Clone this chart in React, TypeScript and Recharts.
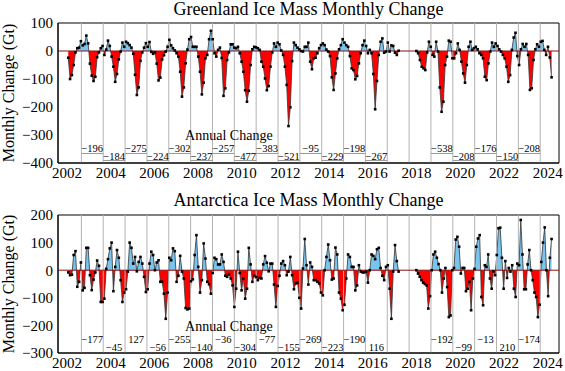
import React from "react";
import {
  Area,
  ComposedChart,
  ReferenceArea,
  ReferenceDot,
  ReferenceLine,
  XAxis,
  YAxis,
} from "recharts";

// Monthly mass change (Gt).
// GRACE period first, then GRACE-FO after the gap.
const GRACE_START = 2002.06;
const GRACE_END = 2017.18;
const FO_START = 2017.99;
const FO_END = 2024.18;

const greenlandGrace = [
  -24, -100, -86, -50, -5, 10, 12, 35, 20, 25, 55, 27,
  -45, -88, -107, -92, -22, -5, 10, 18, -14, 5, 37, 18,
  -20, -56, -110, -82, -30, -2, 30, 15, 33, 28, 21, 12,
  -10, -85, -157, -130, -35, -5, 12, 28, 15, 32, -3, -10,
  -5, -45, -105, -95, -30, -15, -2, 15, 40, 20, 10, 2,
  -8, -20, -74, -163, -130, -44, 5, 42, 50, 15, 15, 15,
  -20, -74, -155, -113, -26, -14, 42, 72, 42, -8, -20, 4,
  12, -25, -160, -133, -32, -5, 24, 24, 12, 10, 15, -8,
  -38, -74, -140, -181, -142, -50, 6, 15, 13, 10, 4, -38,
  -56, -98, -140, -125, -56, -5, 27, 15, 30, 24, 2, -14,
  -56, -121, -268, -201, -36, 30, 21, 12, 6, 0, -2, 15,
  15, 30, -38, -65, -26, -24, -8, 10, 21, 27, 21, 5,
  -2, -18, -94, -139, -80, -26, 6, 21, 42, 30, 21, 15,
  -18, -62, -68, -101, -89, -44, -8, 21, 37, 18, -8, 4,
  -8, -82, -208, -107, -14, 33, 45, -6, -2, 30, -2, 20,
  18, -6, -14, 1,
];

const greenlandFO = [
  0, -8, -32, -56, -62, -68, -5, 33, 15, -14, -20, 33,
  -2, -130, -217, -181, -50, -20, 37, 33, -26, -26, -8, 27,
  4, -38, -80, -113, -50, 15, 33, 4, 10, 15, 6, -8,
  -14, -26, -92, -104, -44, -2, 30, 15, 27, 18, 6, -2,
  -14, -26, -56, -110, -86, 4, 48, 65, -18, -50, 6, 25,
  15, 25, -14, -139, -133, -32, 6, 24, 15, 33, 36, 4,
  -14, 15, -23, -94,
];

const antarcticaGrace = [
  -8, -18, -16, 55, 69, -60, -42, 28, -73, -64, 81, 81,
  -18, -72, -34, -8, 35, 16, -115, -115, -103, 5, 40, 79,
  100, -76, 12, 73, 45, -36, -115, -81, -69, -5, 100, 81,
  24, 48, -4, 30, 48, 24, -24, -79, -69, 24, 67, 55,
  0, 28, 36, -42, -42, -85, -176, -81, 45, 36, 79, 69,
  -42, -20, 52, -5, -30, -137, -142, -139, -40, -33, 55, 127,
  12, -81, -36, 97, 42, -42, -51, -85, -10, 45, 40, 21,
  21, 57, 30, -20, -24, -15, -30, -55, -133, -67, 67, -10,
  -73, -30, -103, -67, 81, 21, -42, -20, -25, -36, -28, -30,
  21, 51, 27, -4, 24, 24, -52, -133, -57, -20, 24, 33,
  18, -18, -5, 48, -18, -69, -48, -45, -100, -139, 6, 113,
  18, -52, 28, 12, -36, -36, -42, -48, -81, -91, 0, 48,
  93, 36, -34, -30, 82, 57, -81, -103, -145, -125, -30, 57,
  48, 12, 12, -73, -55, 18, -5, -8, -8, -5, -45, 0,
  57, 52, 40, 76, 81, 8, -20, -36, 12, 18, -67, -176,
  -5, 91, 33, -5,
];

const antarcticaFO = [
  0, -12, -24, -36, -45, -50, -55, -139, -94, 0, 57, 67,
  45, 22, 0, -81, -30, 8, -61, -170, -164, 0, 8, 111,
  121, 85, -12, 8, 8, -76, -67, -42, -145, -30, 5, 85,
  115, 127, -97, -127, 18, 12, 57, -30, -67, -4, -18, 55,
  152, 154, 45, -67, 33, -28, 8, -5, 18, -67, -97, 24,
  18, 182, 57, -69, -69, 21, 73, 0, -36, -81, -97, -170,
  -125, 30, 100, 155, 0, -94, 45, 113,
];

// Annual change (Gt) per mass-balance year, starting at each grey line
const greenlandAnnual = [
  -196, -184, -275, -224, -302, -237, -257, -477, -383, -521, -95, -229,
  -198, -267, null, null, -538, -208, -176, -150, -208,
];
const antarcticaAnnual = [
  -177, -45, 127, -56, -255, -140, -36, -304, -77, -155, -269, -223,
  -190, 116, null, null, -192, -99, -13, 210, -174,
];

const yearTicks = [2002, 2004, 2006, 2008, 2010, 2012, 2014, 2016, 2018, 2020, 2022, 2024];
const yearLines = [
  2002.66, 2003.66, 2004.66, 2005.66, 2006.66, 2007.66, 2008.66, 2009.66,
  2010.66, 2011.66, 2012.66, 2013.66, 2014.66, 2015.66, 2016.66, 2017.66,
  2018.66, 2019.66, 2020.66, 2021.66, 2022.66, 2023.66,
];
const greenlandTicks = [-400, -300, -200, -100, 0, 100];
const antarcticaTicks = [-300, -200, -100, 0, 100, 200];

const X_MIN = 2001.59;
const X_MAX = 2024.52;
const SERIF = "'Liberation Serif', 'DejaVu Serif', serif";
const BLUE = "#78c5f0";
const RED = "#ff0000";

type Row = { t: number; v: number | null };

function buildSeries(grace: number[], fo: number[]): Row[] {
  const rows: Row[] = [];
  grace.forEach((v, i) =>
    rows.push({ t: GRACE_START + (i * (GRACE_END - GRACE_START)) / (grace.length - 1), v })
  );
  rows.push({ t: (GRACE_END + FO_START) / 2, v: null });
  fo.forEach((v, i) =>
    rows.push({ t: FO_START + (i * (FO_END - FO_START)) / (fo.length - 1), v })
  );
  return rows;
}

const fmt = (v: number) => (v < 0 ? `\u2212${Math.abs(v)}` : `${v}`);

const squareDot = (props: any) => {
  const { cx, cy, index, payload } = props;
  if (payload?.v == null || cx == null || cy == null) return <g key={`d${index}`} />;
  return <rect key={`d${index}`} x={cx - 1.3} y={cy - 1.3} width={2.6} height={2.6} fill="#000" />;
};

type PanelProps = {
  id: string;
  data: Row[];
  annual: (number | null)[];
  yDomain: [number, number];
  yTicks: number[];
  height: number;
  top: number;
  xAxisHeight: number;
  headY: number;
  rowY: [number, number];
  underY?: [number, number];
};

function Panel(p: PanelProps) {
  const vals = p.data.map((d) => d.v).filter((v): v is number => v != null);
  const max = Math.max(...vals);
  const min = Math.min(...vals);
  const off = max / (max - min);
  const tickStyle = { fontSize: 15, fill: "#000", fontFamily: SERIF };

  return (
    <ComposedChart
      width={565}
      height={p.height}
      data={p.data}
      margin={{ top: p.top, right: 6, bottom: 0, left: 8 }}
      style={{ fontFamily: SERIF }}
    >
      <defs>
        <linearGradient id={p.id} x1="0" y1="0" x2="0" y2="1">
          <stop offset={off} stopColor={BLUE} />
          <stop offset={off} stopColor={RED} />
        </linearGradient>
      </defs>
      <XAxis
        dataKey="t"
        type="number"
        domain={[X_MIN, X_MAX]}
        ticks={yearTicks}
        allowDataOverflow
        height={p.xAxisHeight}
        tickLine={false}
        tickSize={0}
        tickMargin={4}
        axisLine={{ stroke: "#000" }}
        tick={tickStyle}
      />
      <YAxis
        type="number"
        domain={p.yDomain}
        ticks={p.yTicks}
        allowDataOverflow
        width={50}
        tickLine={false}
        tickSize={0}
        tickMargin={5}
        axisLine={{ stroke: "#000" }}
        tickFormatter={fmt}
        tick={tickStyle}
      />
      {yearLines.map((x) => (
        <ReferenceLine key={`g${x}`} x={x} stroke="#b4b4b4" strokeWidth={1} />
      ))}
      <Area
        type="linear"
        dataKey="v"
        baseValue={0}
        fill={`url(#${p.id})`}
        fillOpacity={1}
        stroke="#333"
        strokeWidth={0.8}
        dot={squareDot}
        activeDot={false}
        connectNulls={false}
        isAnimationActive={false}
      />
      <ReferenceLine y={0} stroke="#8b1010" strokeWidth={1} />
      <ReferenceDot
        x={2009.41}
        y={p.headY}
        r={0}
        stroke="none"
        label={{ value: "Annual Change", position: "center", fontSize: 14, fill: "#000", fontFamily: SERIF }}
      />
      {p.annual.map((v, k) =>
        v == null ? null : (
          <ReferenceDot
            key={`a${k}`}
            x={yearLines[k] + 0.5}
            y={p.rowY[k % 2]}
            r={0}
            stroke="none"
            label={{ value: fmt(v), position: "center", fontSize: 10.5, fill: "#000", fontFamily: SERIF }}
          />
        )
      )}
      {p.underY &&
        p.annual.map((v, k) =>
          v == null ? null : (
            <ReferenceLine
              key={`u${k}`}
              segment={[
                { x: yearLines[k], y: p.underY![k % 2] },
                { x: yearLines[k] + 1, y: p.underY![k % 2] },
              ]}
              stroke="#9a9a9a"
              strokeWidth={1}
            />
          )
        )}
      <ReferenceArea
        x1={X_MIN}
        x2={X_MAX}
        y1={p.yDomain[0]}
        y2={p.yDomain[1]}
        fill="none"
        stroke="#000"
        strokeWidth={1}
      />
    </ComposedChart>
  );
}

export default function App() {
  const greenland = buildSeries(greenlandGrace, greenlandFO);
  const antarctica = buildSeries(antarcticaGrace, antarcticaFO);

  return (
    <div
      style={{
        position: "absolute",
        left: 0,
        top: 0,
        width: 565,
        height: 371,
        background: "#fff",
        fontFamily: SERIF,
      }}
    >
      <Panel
        id="gl"
        data={greenland}
        annual={greenlandAnnual}
        yDomain={[-400, 100]}
        yTicks={greenlandTicks}
        height={185}
        top={23}
        xAxisHeight={22}
        headY={-300}
        rowY={[-348, -375]}
        underY={[-366, -391]}
      />
      <Panel
        id="an"
        data={antarctica}
        annual={antarcticaAnnual}
        yDomain={[-300, 200]}
        yTicks={antarcticaTicks}
        height={186}
        top={30}
        xAxisHeight={18}
        headY={-203}
        rowY={[-250, -281]}
      />
      <svg
        width={565}
        height={371}
        style={{ position: "absolute", left: 0, top: 0, pointerEvents: "none" }}
        fontFamily={SERIF}
      >
        <text x={308.5} y={15} textAnchor="middle" fontSize={18} fill="#000">
          Greenland Ice Mass Monthly Change
        </text>
        <text x={308.5} y={205.5} textAnchor="middle" fontSize={18} fill="#000">
          Antarctica Ice Mass Monthly Change
        </text>
        <text transform="translate(14,93) rotate(-90)" textAnchor="middle" fontSize={16} fill="#000">
          Monthly Change (Gt)
        </text>
        <text transform="translate(14,284) rotate(-90)" textAnchor="middle" fontSize={16} fill="#000">
          Monthly Change (Gt)
        </text>
      </svg>
    </div>
  );
}
